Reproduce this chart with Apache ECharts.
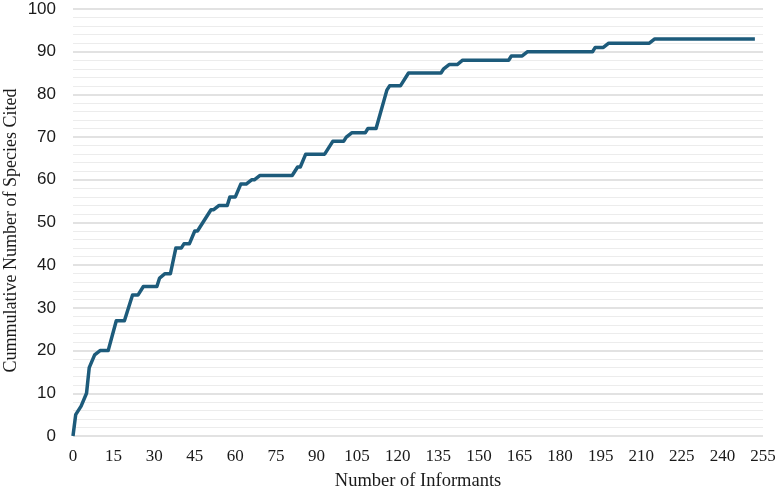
<!DOCTYPE html>
<html>
<head>
<meta charset="utf-8">
<script src="https://cdn.jsdelivr.net/npm/echarts@6/dist/echarts.min.js"></script>
<style>
  html, body { margin: 0; padding: 0; background: #fff; }
  #chart { width: 775px; height: 493px; }
</style>
</head>
<body>
<div id="chart"></div>
<script>
// cumulative species curve
var informants = [0, 1, 3, 5, 6, 8, 10, 13, 16, 19, 22, 24, 26, 31, 32, 34, 36, 38, 40, 41, 43,
	45, 46, 47, 49, 51, 52, 54, 57, 58, 60, 62, 64, 66, 67, 69, 81, 82, 83, 84, 86, 93, 96, 100,
	101, 103, 108, 109, 112, 116, 117, 121, 124, 136, 137, 139, 142, 144, 161, 162, 166, 168,
	192, 193, 196, 198, 213, 215, 252];
var species = [0, 5, 7, 10, 16, 19, 20, 20, 27, 27, 33, 33, 35, 35, 37, 38, 38, 44, 44, 45, 45,
	48, 48, 49, 51, 53, 53, 54, 54, 56, 56, 59, 59, 60, 60, 61, 61, 62, 63, 63, 66, 66, 69, 69,
	70, 71, 71, 72, 72, 81, 82, 82, 85, 85, 86, 87, 87, 88, 88, 89, 89, 90,
	90, 91, 91, 92, 92, 93, 93];

var xTitle = 'Number of Informants';
var yTitle = 'Cummulative Number of Species Cited';

function showChart(divId) {
	var chart = echarts.init(document.getElementById(divId));
	chart.setOption(genOption(), true);
}

function genOption() {
	var points = [];
	for (var i = 0; i < informants.length; i++) {
		points.push([informants[i], species[i]]);
	}
	var option = {
		animation : false,
		grid : {
			left : 73,
			right : 12,
			top : 9,
			bottom : 57,
			outerBoundsMode : 'none'
		},
		xAxis : {
			type : 'value',
			min : 0,
			max : 255,
			interval : 15,
			name : xTitle,
			nameLocation : 'middle',
			nameGap : 36,
			nameMoveOverlap : false,
			nameTextStyle : {
				fontFamily : 'Liberation Serif',
				fontSize : 18.5,
				color : '#1a1a1a'
			},
			axisLine : { show : false },
			axisTick : { show : false },
			splitLine : { show : false },
			axisLabel : {
				fontFamily : 'Liberation Serif',
				fontSize : 17,
				color : '#1a1a1a',
				margin : 12
			}
		},
		yAxis : {
			type : 'value',
			min : 0,
			max : 100,
			interval : 10,
			name : yTitle,
			nameLocation : 'middle',
			nameGap : 53,
			nameMoveOverlap : false,
			nameTextStyle : {
				fontFamily : 'Liberation Serif',
				fontSize : 18,
				color : '#1a1a1a',
				padding : [0, 16, 0, 0]
			},
			axisLine : { show : false },
			axisTick : { show : false },
			axisLabel : {
				fontFamily : 'Liberation Sans',
				fontSize : 17,
				color : '#1a1a1a',
				margin : 17
			},
			splitLine : {
				lineStyle : { color : '#d9d9d9', width : 1.5 }
			},
			minorTick : { show : false, splitNumber : 5 },
			minorSplitLine : {
				show : true,
				lineStyle : { color : '#ececec', width : 1 }
			}
		},
		series : [ {
			type : 'line',
			data : points,
			symbol : 'none',
			lineStyle : {
				color : '#1d5b7b',
				width : 3.5,
				join : 'round'
			}
		} ]
	};
	return option;
}

showChart('chart');
</script>
</body>
</html>
